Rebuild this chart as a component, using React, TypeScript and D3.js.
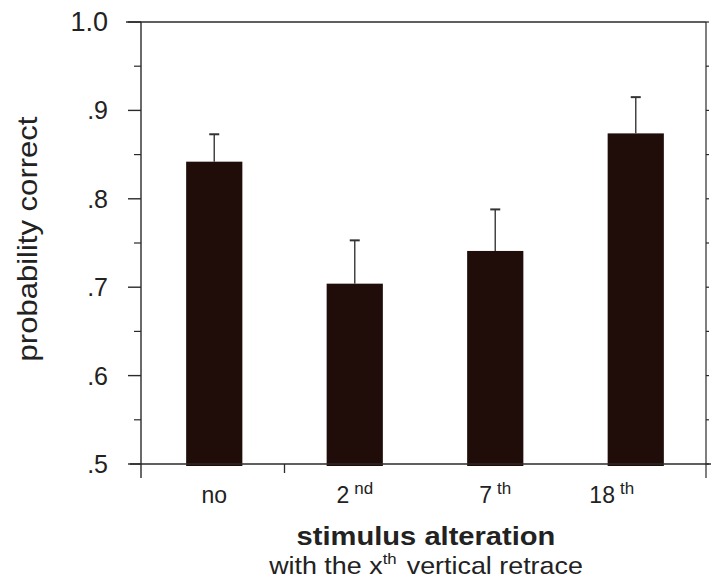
import * as d3 from "d3";

const categories = ["no", "2nd", "7th", "18th"];
const catBase = ["no", "2", "7", "18"];
const catSup = ["", "nd", "th", "th"];
const means = [0.842, 0.704, 0.741, 0.874];
const errs = [0.031, 0.049, 0.047, 0.041];
const yTicks = [0.5, 0.6, 0.7, 0.8, 0.9, 1.0];
const yTickLabels = [".5", ".6", ".7", ".8", ".9", "1.0"];
const yMinor = [0.55, 0.65, 0.75, 0.85, 0.95];

const W = 711;
const H = 580;
const LEFT = 141;
const RIGHT = 706;
const TOP = 22;
const BOTTOM = 464;
const INK = "#2a2a2a";
const FONT = "'Liberation Sans', Arial, Helvetica, sans-serif";
// the last label sits off-centre in the original print
const labelShift = [0, 0, 0, -24];

export default function App() {
    const y = d3.scaleLinear().domain([0.5, 1.0]).range([BOTTOM, TOP]);
    const x = d3.scaleBand<string>().domain(categories).range([144, 706]).paddingInner(0.6).paddingOuter(0.3);
    const bw = x.bandwidth();

    // the single x tick sits halfway between the first two bars
    const xTick = ((x(categories[0]) as number) + (x(categories[1]) as number) + bw) / 2;
    const minorRight = d3.range(0.5, 1.0001, 0.05);

    return (
        <svg width={W} height={H} style={{ position: "absolute", left: 0, top: 0, background: "#fff" }} fontFamily={FONT}>
            {/* frame */}
            <line x1={126} x2={RIGHT} y1={TOP} y2={TOP} stroke={INK} strokeWidth={1.6} />
            <line x1={LEFT} x2={LEFT} y1={TOP} y2={478} stroke={INK} strokeWidth={1.4} />
            <line x1={RIGHT} x2={RIGHT} y1={TOP} y2={478} stroke={INK} strokeWidth={1.2} />

            {yTicks.map((t, i) => (
                <g key={t}>
                    <line x1={128} x2={LEFT} y1={y(t)} y2={y(t)} stroke={INK} strokeWidth={1.4} />
                    <text x={108} y={y(t) + 9} textAnchor="end" fontSize={t === 1 ? 27 : 25} fill="#222">
                        {yTickLabels[i]}
                    </text>
                </g>
            ))}
            {yMinor.map((t) => (
                <line key={t} x1={134} x2={LEFT} y1={y(t)} y2={y(t)} stroke={INK} strokeWidth={1.2} />
            ))}
            {minorRight.map((t) => (
                <line key={t} x1={RIGHT} x2={RIGHT + 3} y1={y(t)} y2={y(t)} stroke={INK} strokeWidth={1.2} />
            ))}

            {/* bars */}
            {categories.map((c, i) => {
                const x0 = x(c) as number;
                const cx = x0 + bw / 2;
                return (
                    <g key={c}>
                        <rect x={x0} y={y(means[i])} width={bw} height={y(0.5) - y(means[i]) + 2} fill="#200d09" />
                        <line x1={cx} x2={cx} y1={y(means[i])} y2={y(means[i] + errs[i])} stroke="#444" strokeWidth={1.5} />
                        <line x1={cx - 5} x2={cx + 5} y1={y(means[i] + errs[i])} y2={y(means[i] + errs[i])} stroke="#333" strokeWidth={2} />
                    </g>
                );
            })}

            {/* baseline */}
            <line x1={130} x2={711} y1={BOTTOM} y2={BOTTOM} stroke={INK} strokeWidth={1.5} />
            <line x1={xTick} x2={xTick} y1={BOTTOM} y2={473} stroke={INK} strokeWidth={1.3} />

            {categories.map((c, i) => {
                const cx = (x(c) as number) + bw / 2 + labelShift[i];
                return (
                    <text key={c} x={cx} y={503} textAnchor="middle" fontSize={23} fill="#222">
                        {catBase[i]}
                        {catSup[i] && (
                            <tspan dx={5} dy={-9} fontSize={17}>
                                {catSup[i]}
                            </tspan>
                        )}
                    </text>
                );
            })}

            {/* the printed face runs wider than Arial, so the two title lines get a small stretch */}
            <g transform="translate(426,545) scale(1.12,1)">
                <text x={0} y={0} textAnchor="middle" fontSize={26} fontWeight="bold" fill="#222">
                    stimulus alteration
                </text>
            </g>
            <g transform="translate(426,574) scale(1.12,1)">
                <text x={0} y={0} textAnchor="middle" fontSize={24} fill="#222">
                    with the x
                    <tspan dy={-10} fontSize={15}>th</tspan>
                    <tspan dy={10} dx={9}>vertical retrace</tspan>
                </text>
            </g>

            <g transform="translate(37,239) rotate(-90) scale(1.15,1)">
                <text x={0} y={0} textAnchor="middle" fontSize={27} fill="#222">
                    probability correct
                </text>
            </g>
        </svg>
    );
}
